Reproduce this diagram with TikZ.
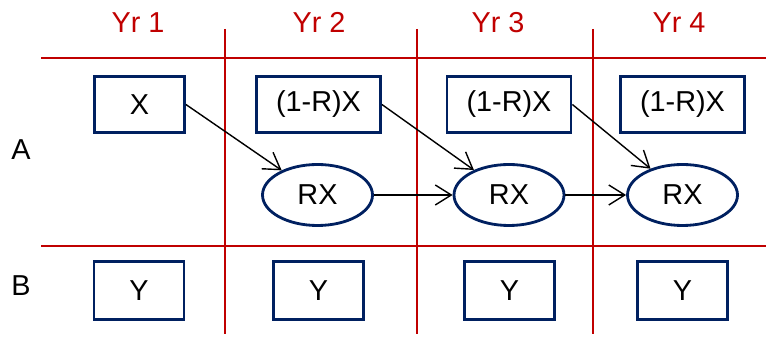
\documentclass[tikz,border=0pt]{standalone}
\usepackage{fontspec}
\setmainfont{Liberation Sans}
\usepackage{tikz}
\usetikzlibrary{arrows.meta, positioning, shapes.geometric}
\usepackage{xcolor}

\definecolor{gridred}{RGB}{192,0,0}
\definecolor{boxblue}{RGB}{0,32,96}
\newcommand{\cellfont}{\fontsize{16.4}{19}\selectfont}

\tikzset{
  val/.style={draw=boxblue, line width=1.6pt, minimum height=1.12cm, inner sep=0pt, font=\cellfont},
  oval/.style={ellipse, draw=boxblue, line width=1.6pt, minimum width=2.2cm, minimum height=1.22cm, inner sep=0pt, font=\cellfont},
  flow/.style={-{Straight Barb[length=3.2mm,width=4mm]}, line width=0.8pt},
  redline/.style={gridred, line width=1.1pt},
  yrlabel/.style={text=gridred, font=\cellfont},
}

\begin{document}
\begin{tikzpicture}
  \useasboundingbox (0,0) rectangle (15.32,-6.82);
  % table lines
  \draw[redline] (0.82,-1.16) -- (15.32,-1.16);
  \draw[redline] (0.82,-4.92) -- (15.32,-4.92);
  \foreach \x in {4.50, 8.34, 11.86}
    \draw[redline] (\x,-0.58) -- (\x,-6.68);
  % headers
  \node[yrlabel] (yr1) at (2.76,-0.45) {Yr 1};
  \node[yrlabel] (yr2) at (6.38,-0.45) {Yr 2};
  \node[yrlabel] (yr3) at (9.96,-0.45) {Yr 3};
  \node[yrlabel] (yr4) at (13.58,-0.45) {Yr 4};
  \node[font=\cellfont] (rowA) at (0.42,-3.0) {A};
  \node[font=\cellfont] (rowB) at (0.42,-5.72) {B};
  % row A
  \node[val, minimum width=1.8cm] (x1) at (2.79,-2.09) {X};
  \node[val, minimum width=2.48cm] (fx2) at (6.37,-2.09) {(1-R)X};
  \node[val, minimum width=2.48cm] (fx3) at (10.18,-2.09) {(1-R)X};
  \node[val, minimum width=2.48cm] (fx4) at (13.65,-2.09) {(1-R)X};
  \node[oval] (rx2) at (6.35,-3.90) {RX};
  \node[oval] (rx3) at (10.18,-3.90) {RX};
  \node[oval] (rx4) at (13.65,-3.90) {RX};
  % row B
  \node[val, minimum width=1.8cm, minimum height=1.16cm] (y1) at (2.78,-5.81) {Y};
  \node[val, minimum width=1.8cm, minimum height=1.16cm] (y2) at (6.37,-5.81) {Y};
  \node[val, minimum width=1.8cm, minimum height=1.16cm] (y3) at (10.19,-5.81) {Y};
  \node[val, minimum width=1.8cm, minimum height=1.16cm] (y4) at (13.65,-5.81) {Y};
  % flows
  \draw[flow] (x1.east) -- (rx2);
  \draw[flow] (fx2.east) -- (rx3);
  \draw[flow] (fx3.east) -- (rx4);
  \draw[flow] (rx2) -- (rx3);
  \draw[flow] (rx3) -- (rx4);
\end{tikzpicture}
\end{document}
